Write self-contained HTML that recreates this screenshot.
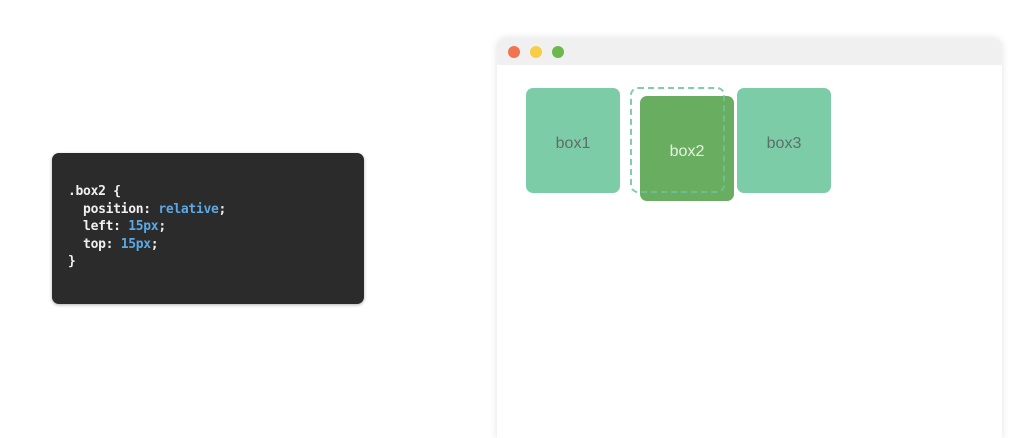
<!DOCTYPE html>
<html><head><style>
body{margin:0;width:1032px;height:413px;background:#fff;position:relative;overflow:hidden;font-family:"Liberation Sans",sans-serif}
.code{position:absolute;left:52px;top:153px;width:312px;height:151px;background:#2b2b2b;border-radius:7px;box-shadow:0 1px 3px rgba(0,0,0,.3)}
.code pre{margin:0;position:absolute;left:16px;top:30px;font-family:"DejaVu Sans Mono","Liberation Mono",monospace;font-size:13px;line-height:17.5px;color:#f0f0f0;font-weight:bold;letter-spacing:-0.3px}
.b{color:#5aa9e6}
.win{position:absolute;left:497px;top:38px;width:505px;height:400px;background:#fff;border-radius:10px 10px 0 0;box-shadow:0 0 8px rgba(0,0,0,.12);overflow:hidden}
.bar{height:27px;background:#f0f0f0}
.dot{position:absolute;top:8px;width:12px;height:12px;border-radius:50%}
.box{position:absolute;width:94px;height:105px;border-radius:7px;background:#7dcca8;color:#5d6f66;font-size:16px;display:flex;align-items:center;justify-content:center;padding-top:6px;box-sizing:border-box}
</style></head><body>
<div class="code"><pre>.box2 {
  position: <span class="b">relative</span>;
  left: <span class="b">15px</span>;
  top: <span class="b">15px</span>;
}</pre></div>
<div class="win"><div class="bar"></div>
<div class="dot" style="left:11px;background:#f2734f"></div>
<div class="dot" style="left:33px;background:#f8ce46"></div>
<div class="dot" style="left:55px;background:#6cb84c"></div>
</div>
<div class="box" style="left:526px;top:88px">box1</div>
<div class="box" style="left:640px;top:96px;background:#69ae60;color:#e6f2e2">box2</div>
<div style="position:absolute;left:630px;top:87px;width:91px;height:102px;border:2px dashed #6cc3a0;border-radius:8px;opacity:.85"></div>
<div class="box" style="left:737px;top:88px">box3</div>
</body></html>
